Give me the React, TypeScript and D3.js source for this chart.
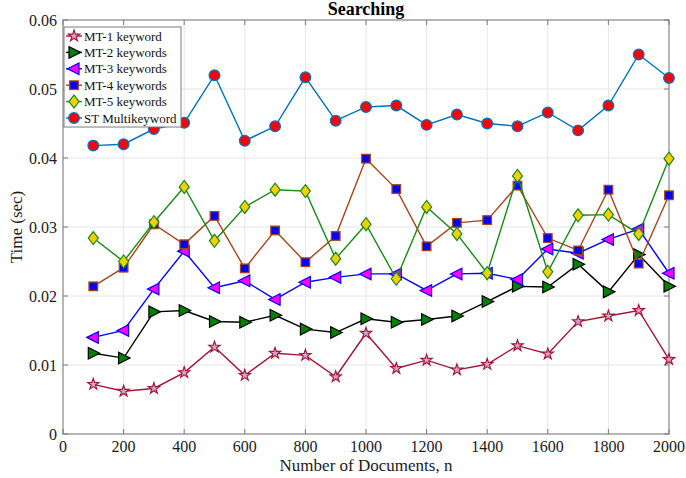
import React from 'react';
import * as d3 from 'd3';

const docs = [100, 200, 300, 400, 500, 600, 700, 800, 900, 1000, 1100, 1200, 1300, 1400, 1500, 1600, 1700, 1800, 1900, 2000];

const mt1 = [0.0072, 0.0062, 0.0066, 0.0089, 0.0126, 0.0085, 0.0117, 0.0114, 0.0083, 0.0146, 0.0095, 0.0107, 0.0093, 0.0101, 0.0128, 0.0116, 0.0163, 0.0171, 0.0179, 0.0108];
const mt2 = [0.0117, 0.0110, 0.0177, 0.0179, 0.0163, 0.0162, 0.0172, 0.0152, 0.0147, 0.0167, 0.0162, 0.0166, 0.0171, 0.0192, 0.0214, 0.0213, 0.0246, 0.0206, 0.0260, 0.0214];
const mt3 = [0.0140, 0.0150, 0.0210, 0.0265, 0.0212, 0.0222, 0.0195, 0.0220, 0.0227, 0.0232, 0.0232, 0.0208, 0.0232, 0.0233, 0.0224, 0.0268, 0.0262, 0.0282, 0.0297, 0.0233];
const mt4 = [0.0214, 0.0241, 0.0304, 0.0275, 0.0316, 0.0240, 0.0295, 0.0249, 0.0287, 0.0399, 0.0355, 0.0272, 0.0306, 0.0310, 0.0360, 0.0284, 0.0266, 0.0354, 0.0247, 0.0346];
const mt5 = [0.0284, 0.0250, 0.0307, 0.0358, 0.0280, 0.0329, 0.0354, 0.0352, 0.0254, 0.0304, 0.0225, 0.0329, 0.0290, 0.0233, 0.0374, 0.0235, 0.0317, 0.0318, 0.0290, 0.0399];
const stMulti = [0.0418, 0.0420, 0.0442, 0.0451, 0.0520, 0.0425, 0.0446, 0.0517, 0.0454, 0.0474, 0.0476, 0.0448, 0.0463, 0.0450, 0.0446, 0.0466, 0.0440, 0.0476, 0.0550, 0.0516];

const xTicks = [0, 200, 400, 600, 800, 1000, 1200, 1400, 1600, 1800, 2000];
const yTicks = [0, 0.01, 0.02, 0.03, 0.04, 0.05, 0.06];

type Shape = 'star' | 'rtri' | 'ltri' | 'square' | 'diamond' | 'circle';

const series: { name: string; values: number[]; line: string; fill: string; edge: string; shape: Shape }[] = [
  { name: 'MT-1 keyword', values: mt1, line: '#A2142F', fill: '#D8A0D8', edge: '#A2142F', shape: 'star' },
  { name: 'MT-2 keywords', values: mt2, line: '#000000', fill: '#008000', edge: '#000000', shape: 'rtri' },
  { name: 'MT-3 keywords', values: mt3, line: '#0000FF', fill: '#FF00FF', edge: '#0000FF', shape: 'ltri' },
  { name: 'MT-4 keywords', values: mt4, line: '#A5461A', fill: '#0000FF', edge: '#A5461A', shape: 'square' },
  { name: 'MT-5 keywords', values: mt5, line: '#178A17', fill: '#F5D000', edge: '#178A17', shape: 'diamond' },
  { name: 'ST Multikeyword', values: stMulti, line: '#0072BD', fill: '#FF0000', edge: '#0072BD', shape: 'circle' },
];

const W = 686;
const H = 478;
const m = { left: 63, right: 17, top: 20, bottom: 44 };
const font = '"Liberation Serif", "Times New Roman", serif';

function Marker({ shape, x, y, fill, edge }: { shape: Shape; x: number; y: number; fill: string; edge: string }) {
  const t = `translate(${x},${y})`;
  if (shape === 'circle') return <circle cx={x} cy={y} r={5.3} fill={fill} stroke={edge} strokeWidth={1.3} />;
  if (shape === 'square') return <rect x={x - 4.3} y={y - 4.3} width={8.6} height={8.6} fill={fill} stroke={edge} strokeWidth={1.3} />;
  if (shape === 'diamond') return <path transform={t} d="M0,-6.5L5,0L0,6.5L-5,0Z" fill={fill} stroke={edge} strokeWidth={1.2} />;
  if (shape === 'rtri') return <path transform={t} d="M6.5,0L-5,-5.8L-5,5.8Z" fill={fill} stroke={edge} strokeWidth={1.2} />;
  if (shape === 'ltri') return <path transform={t} d="M-6.5,0L5,-5.8L5,5.8Z" fill={fill} stroke={edge} strokeWidth={1.2} />;
  const star = d3.symbol().type(d3.symbolStar).size(40)();
  return <path transform={t} d={star || ''} fill={fill} stroke={edge} strokeWidth={1.1} />;
}

export default function App() {
  const x = d3.scaleLinear().domain([0, 2000]).range([m.left, W - m.right]);
  const y = d3.scaleLinear().domain([0, 0.06]).range([H - m.bottom, m.top]);
  const line = d3.line<number>().x((_, i) => x(docs[i])).y((d) => y(d));
  const x0 = x.range()[0];
  const x1 = x.range()[1];
  const y0 = y.range()[0];
  const y1 = y.range()[1];

  return (
    <svg width={W} height={H} style={{ position: 'absolute', left: 0, top: 0, background: '#fff' }} fontFamily={font}>
      <rect x={0} y={0} width={W} height={H} fill="#fff" />
      {xTicks.map((t) => (
        <line key={'gx' + t} x1={x(t)} x2={x(t)} y1={y0} y2={y1} stroke="#e6e6e6" strokeWidth={1} />
      ))}
      {yTicks.map((t) => (
        <line key={'gy' + t} x1={x0} x2={x1} y1={y(t)} y2={y(t)} stroke="#e6e6e6" strokeWidth={1} />
      ))}
      <rect x={x0} y={y1} width={x1 - x0} height={y0 - y1} fill="none" stroke="#7a7a7a" strokeWidth={1} />
      {xTicks.map((t) => (
        <g key={'tx' + t}>
          <line x1={x(t)} x2={x(t)} y1={y0} y2={y0 - 5} stroke="#7a7a7a" />
          <line x1={x(t)} x2={x(t)} y1={y1} y2={y1 + 5} stroke="#7a7a7a" />
          <text x={x(t)} y={y0 + 18} textAnchor="middle" fontSize={16} fill="#1a1a1a">{t}</text>
        </g>
      ))}
      {yTicks.map((t) => (
        <g key={'ty' + t}>
          <line x1={x0} x2={x0 + 5} y1={y(t)} y2={y(t)} stroke="#7a7a7a" />
          <line x1={x1} x2={x1 - 5} y1={y(t)} y2={y(t)} stroke="#7a7a7a" />
          <text x={x0 - 6} y={y(t) + 5.5} textAnchor="end" fontSize={16} fill="#1a1a1a">{t === 0 ? '0' : d3.format('.2f')(t)}</text>
        </g>
      ))}
      {series.map((s) => (
        <g key={s.name}>
          <path d={line(s.values) || ''} fill="none" stroke={s.line} strokeWidth={1.4} />
          {s.values.map((v, i) => (
            <Marker key={i} shape={s.shape} x={x(docs[i])} y={y(v)} fill={s.fill} edge={s.edge} />
          ))}
        </g>
      ))}
      <text x={(x0 + x1) / 2} y={15} textAnchor="middle" fontSize={18} fontWeight="bold">Searching</text>
      <text x={(x0 + x1) / 2} y={H - 7} textAnchor="middle" fontSize={17} fill="#1a1a1a">Number of Documents, n</text>
      <text transform={`translate(22,${(y0 + y1) / 2}) rotate(-90)`} textAnchor="middle" fontSize={17} fill="#1a1a1a">Time (sec)</text>
      <g transform={`translate(${x0 + 1},${y1 + 7})`}>
        <rect x={0} y={0} width={117} height={100} fill="#fff" stroke="#7a7a7a" strokeWidth={1} />
        {series.map((s, i) => (
          <g key={s.name} transform={`translate(0,${9 + i * 16.4})`}>
            <line x1={2} x2={18} y1={0} y2={0} stroke={s.line} strokeWidth={1.4} />
            <Marker shape={s.shape} x={10} y={0} fill={s.fill} edge={s.edge} />
            <text x={20} y={4.5} fontSize={13} fill="#111">{s.name}</text>
          </g>
        ))}
      </g>
    </svg>
  );
}
